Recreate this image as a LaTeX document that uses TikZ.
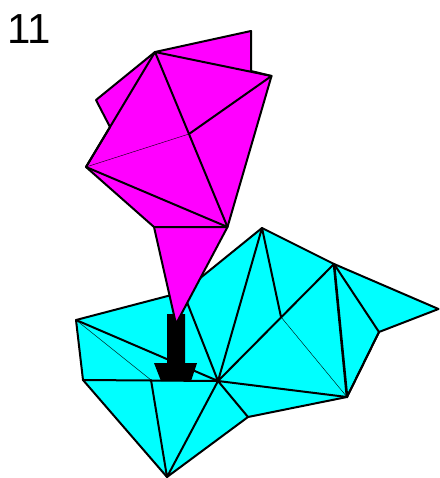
\documentclass[tikz,border=0pt]{standalone}
\usepackage{fontspec}
\setmainfont{Liberation Sans}
\definecolor{cy}{RGB}{0,255,255}
\definecolor{mg}{RGB}{255,0,255}
\tikzset{
  edge/.style={draw=black,line width=2pt,line join=round,line cap=round},
  thick edge/.style={draw=black,line width=2.6pt,line cap=round},
  thin edge/.style={draw=black,line width=0.4pt},
  cyface/.style={fill=cy,edge},
  mgface/.style={fill=mg,edge},
}
\begin{document}
\begin{tikzpicture}[x=1pt,y=-1pt]
\useasboundingbox (0,0) rectangle (439,478);
% cyan mesh points
\coordinate (L) at (76,320); \coordinate (K) at (83,380); \coordinate (Q) at (151,380);
\coordinate (P) at (218,381); \coordinate (R) at (167,477); \coordinate (S) at (248,417);
\coordinate (Y) at (347,397); \coordinate (X) at (379,332); \coordinate (W) at (438.5,309);
\coordinate (U) at (334,264); \coordinate (T) at (262,228); \coordinate (M) at (281,317);
\coordinate (V) at (183,292);
% magenta mesh points
\coordinate (A) at (155,52); \coordinate (B) at (251,31); \coordinate (B2) at (251,71);
\coordinate (C) at (271.5,76); \coordinate (D) at (189,134); \coordinate (E) at (86,167);
\coordinate (F) at (227.5,227); \coordinate (G) at (96,100); \coordinate (G2) at (110,127);
\coordinate (H) at (154,227); \coordinate (I) at (176,324);
% cyan
\path[cyface] (L) -- (V) -- (T) -- (U) -- (W) -- (X) -- (Y) -- (S) -- (R) -- (K) -- cycle;
\draw[edge] (L) -- (P) (V) -- (P) (T) -- (P) (T) -- (M) (U) -- (P) (U) -- (X) (X) -- (Y)
  (P) -- (Y) (P) -- (S) (P) -- (R) (Q) -- (R);
\draw[thick edge] (U) -- (Y);
\draw[thin edge] (L) -- (Q) (M) -- (Y);
% arrow
\fill[black] (167,314) -- (185,314) -- (185,363) -- (197,363) -- (191,381) -- (161,381) -- (154,363) -- (167,363) -- cycle;
\draw[edge] (K) -- (P);
% magenta
\path[mgface] (A) -- (B) -- (B2) -- (C) -- (F) -- (I) -- (H) -- (E) -- (G2) -- (G) -- cycle;
\draw[edge] (A) -- (C) (A) -- (E) (A) -- (F) (C) -- (D) (E) -- (F) (H) -- (F);
\draw[thin edge] (E) -- (D);
\node[anchor=base west,font=\fontsize{42}{42}\selectfont,inner sep=0pt] (label) at (7,44) {11};
\end{tikzpicture}
\end{document}
